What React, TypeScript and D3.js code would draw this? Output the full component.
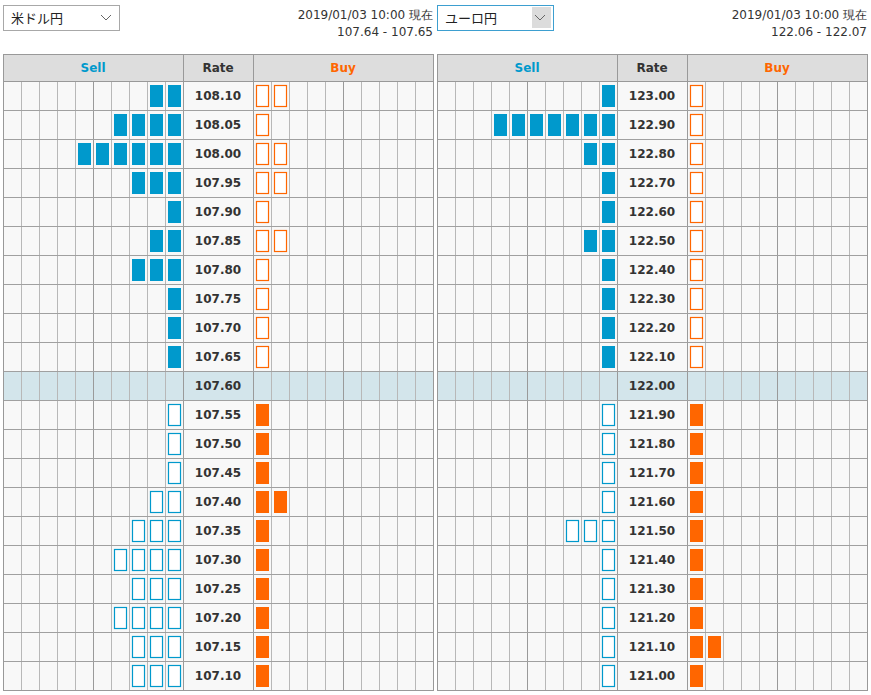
import React from "react";
import * as d3 from "d3";

const usdRates = ["108.10","108.05","108.00","107.95","107.90","107.85","107.80","107.75","107.70","107.65","107.60","107.55","107.50","107.45","107.40","107.35","107.30","107.25","107.20","107.15","107.10"];
const usdSell = [2,4,6,3,1,2,3,1,1,1,0,1,1,1,2,3,4,3,4,3,3];
const usdBuy = [2,1,2,2,1,2,1,1,1,1,0,1,1,1,2,1,1,1,1,1,1];

const eurRates = ["123.00","122.90","122.80","122.70","122.60","122.50","122.40","122.30","122.20","122.10","122.00","121.90","121.80","121.70","121.60","121.50","121.40","121.30","121.20","121.10","121.00"];
const eurSell = [1,7,2,1,1,2,1,1,1,1,0,1,1,1,1,3,1,1,1,1,1];
const eurBuy = [1,1,1,1,1,1,1,1,1,1,0,1,1,1,1,1,1,1,1,2,1];

const panels = [
  { name: "米ドル円", stamp: "2019/01/03 10:00 現在", quote: "107.64 - 107.65", rates: usdRates, sell: usdSell, buy: usdBuy, mid: "107.60", focused: false },
  { name: "ユーロ円", stamp: "2019/01/03 10:00 現在", quote: "122.06 - 122.07", rates: eurRates, sell: eurSell, buy: eurBuy, mid: "122.00", focused: true },
];

const BLUE = "#0099cc";
const ORANGE = "#ff6600";
const NCOL = 10;
const FONT = "'DejaVu Sans', Verdana, sans-serif";

function Panel({ p, x0 }: { p: any; x0: number }) {
  const W = 430;
  const top = 54;
  const headH = 27;
  const rowTop = top + headH;
  const rowH = 29;
  const y = d3.scaleBand<string>().domain(p.rates).range([rowTop, rowTop + rowH * p.rates.length]);
  const cols = d3.range(NCOL);
  const sx = d3.scaleBand<number>().domain(cols).range([x0, x0 + 180]);
  const bx = d3.scaleBand<number>().domain(cols).range([x0 + 250, x0 + 430]);
  const midIdx = p.rates.indexOf(p.mid);
  const bottom = rowTop + rowH * p.rates.length;
  const px = (v: number) => Math.round(v) + 0.5;

  return (
    <g>
      {/* dropdown */}
      <rect x={px(x0)} y={5.5} width={116} height={25} fill="#fff" stroke={p.focused ? "#3d9fd0" : "#a8a8a8"} />
      {p.focused && <rect x={x0 + 95} y={7} width={19} height={21} fill="#dcdcdc" />}
      <text x={x0 + 8} y={23} fontSize={13} fontFamily="'Noto Sans CJK JP', sans-serif" fill="#222">{p.name}</text>
      <path d={`M${x0 + 98},${15} L${x0 + 103},${20} L${x0 + 108},${15}`} fill="none" stroke="#666" strokeWidth={1} />
      <text x={x0 + W} y={19} textAnchor="end" fontSize={12} fontFamily={FONT} fill="#333">{p.stamp}</text>
      <text x={x0 + W} y={36} textAnchor="end" fontSize={12} fontFamily={FONT} fill="#333">{p.quote}</text>

      {/* header */}
      <rect x={px(x0)} y={px(top)} width={W} height={headH} fill="#dddddd" stroke="#999" />
      <line x1={px(x0 + 180)} x2={px(x0 + 180)} y1={top} y2={rowTop} stroke="#999" />
      <line x1={px(x0 + 250)} x2={px(x0 + 250)} y1={top} y2={rowTop} stroke="#999" />
      <text x={x0 + 90} y={top + 18} textAnchor="middle" fontSize={12} fontWeight="bold" fontFamily={FONT} fill={BLUE}>Sell</text>
      <text x={x0 + 215} y={top + 18} textAnchor="middle" fontSize={12} fontWeight="bold" fontFamily={FONT} fill="#333">Rate</text>
      <text x={x0 + 340} y={top + 18} textAnchor="middle" fontSize={12} fontWeight="bold" fontFamily={FONT} fill={ORANGE}>Buy</text>

      {/* rows background */}
      {p.rates.map((r: string, i: number) => (
        <rect key={"bg" + r} x={x0} y={y(r)!} width={W} height={rowH} fill={i === midIdx ? "#d3e5eb" : "#f8f8f8"} />
      ))}

      {/* vertical grid lines */}
      {cols.map((c) => (
        <line key={"sv" + c} x1={px(sx(c)!)} x2={px(sx(c)!)} y1={rowTop} y2={bottom} stroke={c % 5 === 0 ? "#9a9a9a" : "#b8b8b8"} />
      ))}
      {cols.map((c) => (
        <line key={"bv" + c} x1={px(bx(c)!)} x2={px(bx(c)!)} y1={rowTop} y2={bottom} stroke={c % 5 === 0 ? "#9a9a9a" : "#b8b8b8"} />
      ))}
      <line x1={px(x0 + 180)} x2={px(x0 + 180)} y1={rowTop} y2={bottom} stroke="#9a9a9a" />

      {/* horizontal row lines */}
      {p.rates.map((r: string) => (
        <line key={"h" + r} x1={x0} x2={x0 + W} y1={px(y(r)!)} y2={px(y(r)!)} stroke="#a0a0a0" />
      ))}
      <rect x={px(x0)} y={px(rowTop)} width={W} height={bottom - rowTop} fill="none" stroke="#999" />

      {/* bars */}
      {p.rates.map((r: string, i: number) => {
        const above = i < midIdx;
        const top0 = y(r)! + 4;
        const h = 22;
        const sellBars = d3.range(p.sell[i]).map((k) => {
          const cx = sx(NCOL - 1 - k)!;
          return above ? (
            <rect key={"s" + r + k} x={cx + 3} y={top0} width={13} height={h} fill={BLUE} />
          ) : (
            <rect key={"s" + r + k} x={cx + 3.5} y={top0 + 0.5} width={12} height={h - 1} fill="#fff" stroke={BLUE} strokeWidth={1.2} />
          );
        });
        const buyBars = d3.range(p.buy[i]).map((k) => {
          const cx = bx(k)!;
          return above ? (
            <rect key={"b" + r + k} x={cx + 3.5} y={top0 + 0.5} width={12} height={h - 1} fill="#fff" stroke={ORANGE} strokeWidth={1.2} />
          ) : (
            <rect key={"b" + r + k} x={cx + 3} y={top0} width={13} height={h} fill={ORANGE} />
          );
        });
        return (
          <g key={"bars" + r}>
            {sellBars}
            {buyBars}
            <text x={x0 + 215} y={y(r)! + rowH / 2 + 4.5} textAnchor="middle" fontSize={12} fontWeight="bold" fontFamily={FONT} fill="#333">{r}</text>
          </g>
        );
      })}
    </g>
  );
}

export default function App() {
  return (
    <div style={{ position: "absolute", left: 0, top: 0 }}>
      <svg width={871} height={695} style={{ display: "block", background: "#fff" }}>
        <Panel p={panels[0]} x0={3} />
        <Panel p={panels[1]} x0={437} />
      </svg>
    </div>
  );
}
